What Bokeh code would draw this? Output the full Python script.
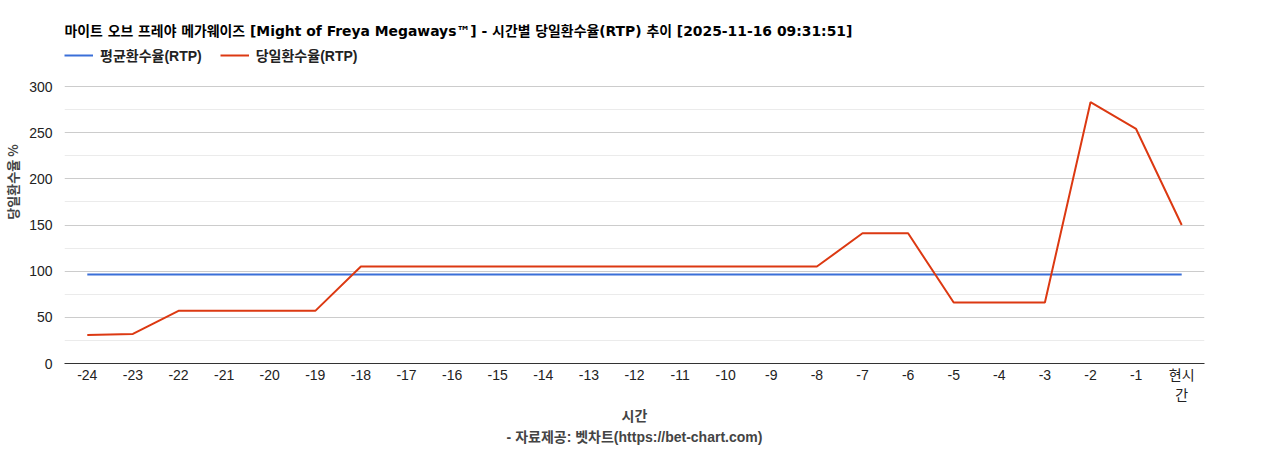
from bokeh.plotting import figure
from bokeh.models import (Legend, LegendItem, FactorRange, FixedTicker, Label,
                          Range1d, CategoricalAxis, CustomJSTickFormatter)
from bokeh.embed import file_html
from bokeh.resources import INLINE

hours = [str(h) for h in range(-24, 0)] + ["현시간"]
avg_rtp = [96.5] * 25
day_rtp = [31, 32, 57, 57, 57, 57, 105, 105, 105, 105, 105, 105, 105, 105, 105, 105, 105,
           141, 141, 66, 66, 66, 283, 254, 150]
y_ticks = [0, 50, 100, 150, 200, 250, 300]
y_minor = [25, 75, 125, 175, 225, 275]

title_text = "마이트 오브 프레야 메가웨이즈 [Might of Freya Megaways™] - 시간별 당일환수율(RTP) 추이 [2025-11-16 09:31:51]"
legend_labels = ["평균환수율(RTP)", "당일환수율(RTP)"]
y_label = "당일환수율 %"
x_label = "시간"
now_label = ["현시", "간"]
source_label = "- 자료제공: 벳차트(https://bet-chart.com)"

LAT = "'Liberation Sans', 'Noto Sans CJK KR', sans-serif"
TTL = "'DejaVu Sans', 'Noto Sans CJK KR', sans-serif"
CJK = "'Noto Sans CJK KR', sans-serif"

W, H = 1268, 450
PLOT_TOP, PLOT_BOTTOM = 86, 363          # pixel rows of the 300 and 0 lines
FRAME_H = PLOT_BOTTOM                    # frame runs from the top edge down to the 0 line
p = figure(width=W, height=H, x_range=FactorRange(*hours, range_padding=0),
           y_range=Range1d(0, 300 * FRAME_H / (PLOT_BOTTOM - PLOT_TOP)),
           output_backend="svg", toolbar_location=None,
           min_border_left=64, min_border_right=64, min_border_bottom=H - PLOT_BOTTOM,
           min_border_top=0)

r1 = p.line(hours, avg_rtp, line_color="#3a6fd8", line_width=2)
r2 = p.line(hours, day_rtp, line_color="#dc3912", line_width=2)

legend = Legend(items=[LegendItem(label=legend_labels[0], renderers=[r1]),
                       LegendItem(label=legend_labels[1], renderers=[r2])],
                orientation="horizontal", location=(0, FRAME_H - 65),
                label_text_font=LAT, label_text_font_size="14px", label_text_font_style="bold",
                label_text_color="#222222",
                glyph_width=29, label_standoff=7, spacing=18, padding=0, margin=0,
                border_line_color=None, background_fill_alpha=0, label_height=20, glyph_height=20)
p.add_layout(legend, "center")

p.add_layout(Label(x=0, y=FRAME_H - 30, x_units="screen", y_units="screen", text=title_text,
                   text_font=TTL, text_font_size="13.9px", text_font_style="bold",
                   text_color="#000000", text_baseline="middle"))

p.outline_line_color = None
p.background_fill_color = "white"

p.xgrid.grid_line_color = None
p.ygrid.ticker = FixedTicker(ticks=y_ticks, minor_ticks=y_minor)
p.ygrid.grid_line_color = "#cccccc"
p.ygrid.minor_grid_line_color = "#ebebeb"

p.yaxis.ticker = FixedTicker(ticks=y_ticks, minor_ticks=y_minor)
p.yaxis.bounds = (0, 300)
p.yaxis.axis_line_color = None
p.yaxis.major_tick_line_color = None
p.yaxis.minor_tick_line_color = None
p.yaxis.major_tick_out = 0
p.yaxis.major_label_text_font = LAT
p.yaxis.major_label_text_font_size = "14px"
p.yaxis.major_label_text_color = "#222222"
p.yaxis.major_label_standoff = 8
p.yaxis.axis_label = y_label
p.yaxis.axis_label_text_font = CJK
p.yaxis.axis_label_text_font_size = "13px"
p.yaxis.axis_label_text_font_style = "bold"
p.yaxis.axis_label_standoff = 4

xa = p.xaxis[0]
xa.axis_line_color = "#333333"
xa.major_tick_line_color = None
xa.minor_tick_line_color = None
xa.major_tick_out = 0
xa.major_label_text_font = LAT
xa.major_label_text_font_size = "14px"
xa.major_label_text_color = "#222222"
xa.major_label_standoff = 3
xa.formatter = CustomJSTickFormatter(args=dict(last=hours[-1], first_line=now_label[0]),
                                     code="return tick == last ? first_line : tick;")

xa2 = CategoricalAxis(axis_line_color=None, major_tick_line_color=None, minor_tick_line_color=None,
                      major_tick_out=0, major_label_text_font=LAT, major_label_text_font_size="14px",
                      major_label_text_color="#222222", major_label_standoff=1,
                      formatter=CustomJSTickFormatter(args=dict(last=hours[-1], second_line=now_label[1]),
                                                      code="return tick == last ? second_line : '';"),
                      axis_label=x_label, axis_label_text_font=LAT, axis_label_text_font_size="14px",
                      axis_label_text_font_style="bold", axis_label_standoff=2)
p.add_layout(xa2, "below")

xa3 = CategoricalAxis(axis_line_color=None, major_tick_line_color=None, minor_tick_line_color=None,
                      major_tick_out=0, major_label_text_font_size="0px", major_label_standoff=1,
                      formatter=CustomJSTickFormatter(code="return '';"),
                      axis_label=source_label, axis_label_text_font=LAT, axis_label_text_font_size="14px",
                      axis_label_text_font_style="bold", axis_label_standoff=2)
p.add_layout(xa3, "below")

open("out.html", "w").write(file_html(p, INLINE))
